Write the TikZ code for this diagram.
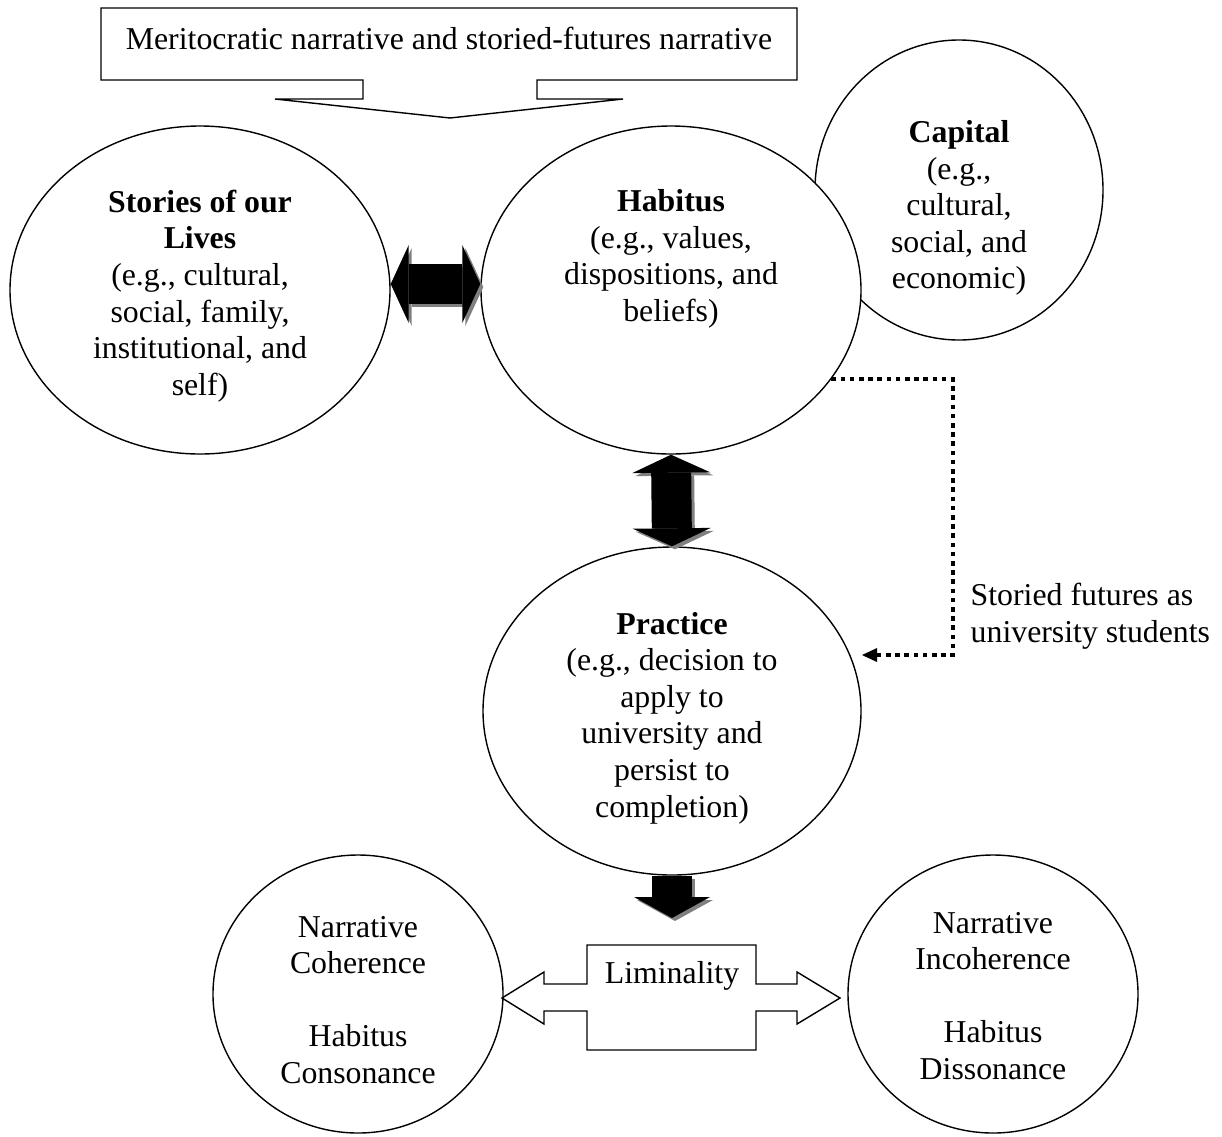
\documentclass[tikz,border=0pt]{standalone}
\usepackage{fontspec}
\setmainfont{Liberation Serif}
\usepackage{tikz}
\usetikzlibrary{arrows.meta,shapes.geometric}
\definecolor{shadowgray}{HTML}{808080}

\begin{document}
\begin{tikzpicture}[x=1pt,y=-1pt,line width=1.4pt,
  every node/.style={font=\fontsize{31.8}{36.6}\selectfont,align=center,inner sep=0pt},
  oval/.style={draw,ellipse,fill=white,line width=1.4pt},
  bigarrow/.style={line width=40pt,{Triangle[length=18pt,width=78pt,line width=0pt]}-{Triangle[length=18pt,width=78pt,line width=0pt]}},
  downarrow/.style={line width=40pt,-{Triangle[length=21pt,width=76pt,line width=0pt]}},
  futureline/.style={line width=4.6pt,dash pattern=on 4.6pt off 4.6pt,-{Triangle[length=15pt,width=14pt,line width=0pt]}}]
\useasboundingbox (0,0) rectangle (1222,1136);
% callout at the top
\draw[fill=white] (101,8) -- (797,8) -- (797,80) -- (537,80) -- (537,99) -- (623,99) -- (450,118) -- (275,99) -- (363,99) -- (363,80) -- (101,80) -- cycle;
\node (narr) at (449,38) {Meritocratic narrative and storied-futures narrative};
% ovals
\node[oval,minimum width=288pt,minimum height=300pt] (capital) at (959,190) {};
\node[oval,minimum width=380pt,minimum height=328pt] (stories) at (200,290) {};
\node[oval,minimum width=380pt,minimum height=328pt] (habitus) at (671,290) {};
\node[oval,minimum width=378pt,minimum height=328pt] (practice) at (672,711) {};
\node[oval,minimum width=290pt,minimum height=278pt] (cohere) at (358,994) {};
\node[oval,minimum width=290pt,minimum height=278pt] (incohere) at (993,994) {};
\node (capitaltxt) at (959,208) {\textbf{Capital}\\(e.g.,\\cultural,\\social, and\\economic)};
\node (storiestxt) at (200,296) {\textbf{Stories of our}\\\textbf{Lives}\\(e.g., cultural,\\social, family,\\institutional, and\\self)};
\node (habitustxt) at (671,259) {\textbf{Habitus}\\(e.g., values,\\dispositions, and\\beliefs)};
\node (practicetxt) at (672,718) {\textbf{Practice}\\(e.g., decision to\\apply to\\university and\\persist to\\completion)};
\node (coheretxt) at (358,1000) {Narrative\\Coherence\\[36.6pt]Habitus\\Consonance};
\node (incoheretxt) at (993,996) {Narrative\\Incoherence\\[36.6pt]Habitus\\Dissonance};
% block arrows
\draw[shadowgray,bigarrow] ([xshift=3pt,yshift=3pt]stories.east) -- ([xshift=3pt,yshift=3pt]habitus.west);
\draw[bigarrow] ([yshift=6pt]stories.east) -- ([yshift=6pt]habitus.west);
\draw[shadowgray,bigarrow] ([xshift=3pt,yshift=-3pt]habitus.south) -- ([xshift=3pt,yshift=-3pt]practice.north);
\draw[bigarrow] (habitus.south) -- (practice.north);
\coordinate (limtop) at (672,918);
\draw[shadowgray,downarrow] ([xshift=3pt,yshift=-3pt]practice.south) -- ([xshift=3pt,yshift=-3pt]limtop);
\draw[downarrow] (practice.south) -- (limtop);
% storied futures
\coordinate (futend) at (862,655);
\draw[futureline] (habitus.-29) -| (953,655) -- (futend);
\node[anchor=west,align=left] (futlabel) at (970,616) {Storied futures as\\university students};
% liminality
\draw (502,998) -- (544,972) -- (544,984) -- (587,984) -- (587,945) -- (756,945) -- (756,984) -- (797,984) -- (797,972) -- (840,998) -- (797,1024) -- (797,1011) -- (756,1011) -- (756,1050) -- (587,1050) -- (587,1011) -- (544,1011) -- (544,1024) -- cycle;
\node (limin) at (672,976) {Liminality};
\end{tikzpicture}
\end{document}
